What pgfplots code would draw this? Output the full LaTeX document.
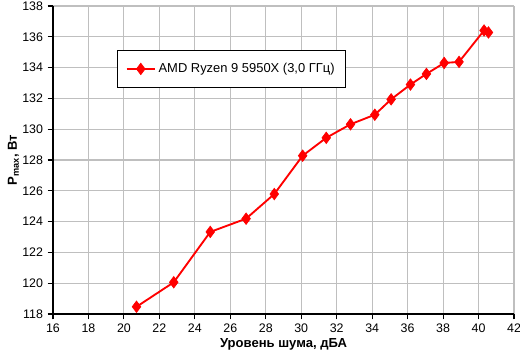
\documentclass[border=0pt]{standalone}
\usepackage{pgfplots}
\pgfplotsset{compat=1.18}
\usepackage{fontspec}
\setmainfont{Liberation Sans}
\usetikzlibrary{calc}
\begin{document}
\begin{tikzpicture}
\begin{axis}[
  name=ax,
  scale only axis,
  width=345.75pt, height=231pt,
  xmin=16, xmax=42, ymin=118, ymax=138,
  xtick={16,18,...,42}, ytick={118,120,...,138},
  axis x line*=bottom, axis y line*=left,
  axis line style={black, line width=0.8pt, -},
  grid=major,
  major grid style={color=black!25, line width=0.8pt},
  tick style={black, line width=0.8pt},
  major tick length=4pt,
  tick align=outside,
  /pgf/number format/assume math mode=true,
  ticklabel style={font=\fontsize{9.3}{11}\selectfont},
  xlabel={\textbf{Уровень шума, дБА}},
  ylabel={\textbf{P\textsubscript{max}, Вт}},
  label style={font=\fontsize{9.8}{11}\selectfont},
  xlabel style={at={(axis description cs:0.5,0)}, anchor=north, yshift=-15pt},
  ylabel style={at={(axis description cs:0,0.5)}, anchor=south, yshift=22pt},
  legend style={at={(axis description cs:0.139,0.857)}, anchor=north west,
    draw=black, line width=0.8pt, fill=white, font=\fontsize{9.7}{11}\selectfont,
    inner xsep=6pt, inner ysep=7.5pt, legend cell align=left},
  legend image code/.code={
    \draw[#1] (0cm,0cm) -- (0.75cm,0cm);
    \draw[#1, only marks] plot coordinates {(0.375cm,0cm)};
  },
]
\addplot[color=red, line width=1.4pt, mark=diamond*, mark size=4.3pt,
  mark options={fill=red, line width=0.5pt}] coordinates {
(20.71,118.47) (22.81,120.06) (24.87,123.33) (26.89,124.19) (28.48,125.79)
(30.08,128.28) (31.41,129.44) (32.78,130.32) (34.15,130.94) (35.07,131.94)
(36.16,132.90) (37.06,133.59) (38.06,134.30) (38.90,134.37) (40.31,136.41)
(40.56,136.28)
};
\addlegendentry{AMD Ryzen 9 5950X (3,0 ГГц)}
\end{axis}
\pgfresetboundingbox
\path[use as bounding box] ($(ax.south west)+(-39.75pt,-32.25pt)$) rectangle ($(ax.north east)+(4.5pt,4.5pt)$);
\end{tikzpicture}
\end{document}
